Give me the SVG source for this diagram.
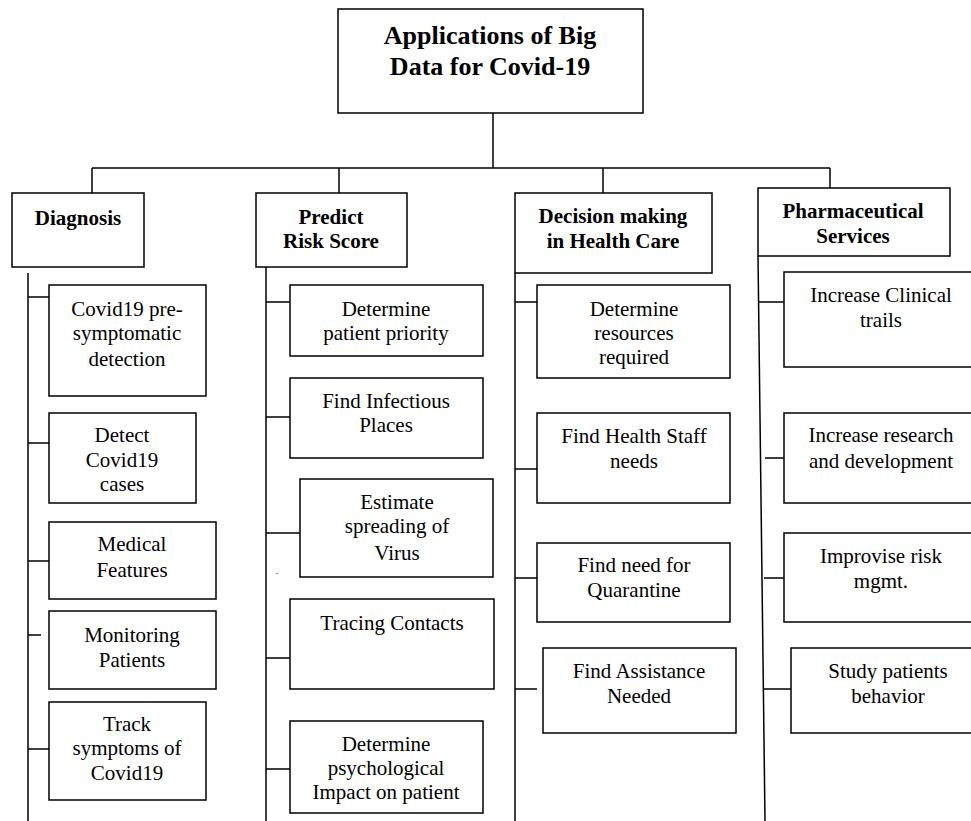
<svg xmlns="http://www.w3.org/2000/svg" width="971" height="821" viewBox="0 0 971 821">
<style>
.box{fill:#fff;stroke:#000;stroke-width:1.5}
.ln{fill:none;stroke:#000;stroke-width:1.5}
text{font-family:"Liberation Serif","Times New Roman",serif;fill:#000;text-anchor:middle}
.t{font-size:26px;font-weight:bold}
.h{font-size:21px;font-weight:bold}
.n{font-size:21px}
</style>
<rect width="971" height="821" fill="#fff"/>
<g id="connectors">
<path class="ln" d="M493,113 V168 M92,168 H830 M92,168 V193 M339,168 V193 M603,168 V193 M830,168 V188"/>
<path class="ln" d="M28,273 V821 M28,297 H49 M28,443 H49 M28,561 H49 M28,635 H41 M28,749 H49"/>
<path class="ln" d="M266,267 V821 M266,302 H290 M266,417 H290 M266,533 H300 M266,658 H290 M266,769 H290"/>
<path class="ln" d="M515,273 V821 M515,302 H537 M515,469 H537 M515,578 H537 M515,689 H537"/>
<path class="ln" d="M758,256 L765,821 M759,302 H784 M765,458 H784 M764,578 H784 M764,689 H791"/>
</g>
<g id="root"><rect class="box" x="338" y="9" width="305" height="104"/><text class="t" x="490" y="44">Applications of Big</text><text class="t" x="490" y="75">Data for Covid-19</text></g>
<g id="diagnosis"><rect class="box" x="12" y="193" width="132" height="74"/><text class="h" x="78" y="225">Diagnosis</text></g>
<g id="predict"><rect class="box" x="256" y="193" width="151" height="74"/><text class="h" x="331" y="224">Predict</text><text class="h" x="331" y="248">Risk Score</text></g>
<g id="decision"><rect class="box" x="515" y="193" width="197" height="80"/><text class="h" x="613" y="223">Decision making</text><text class="h" x="613" y="248">in Health Care</text></g>
<g id="pharma"><rect class="box" x="758" y="188" width="192" height="68"/><text class="h" x="853" y="218">Pharmaceutical</text><text class="h" x="853" y="243">Services</text></g>

<g id="d1"><rect class="box" x="49" y="285" width="157" height="111"/><text class="n" x="127" y="316">Covid19 pre-</text><text class="n" x="127" y="340">symptomatic</text><text class="n" x="127" y="366">detection</text></g>
<g id="d2"><rect class="box" x="49" y="413" width="147" height="90"/><text class="n" x="122" y="442">Detect</text><text class="n" x="122" y="467">Covid19</text><text class="n" x="122" y="491">cases</text></g>
<g id="d3"><rect class="box" x="49" y="522" width="167" height="77"/><text class="n" x="132" y="551">Medical</text><text class="n" x="132" y="577">Features</text></g>
<g id="d4"><rect class="box" x="49" y="611" width="167" height="78"/><text class="n" x="132" y="642">Monitoring</text><text class="n" x="132" y="667">Patients</text></g>
<g id="d5"><rect class="box" x="49" y="702" width="157" height="98"/><text class="n" x="127" y="731">Track</text><text class="n" x="127" y="755">symptoms of</text><text class="n" x="127" y="780">Covid19</text></g>

<g id="p1"><rect class="box" x="290" y="285" width="193" height="71"/><text class="n" x="386" y="316">Determine</text><text class="n" x="386" y="340">patient priority</text></g>
<g id="p2"><rect class="box" x="290" y="378" width="193" height="80"/><text class="n" x="386" y="408">Find Infectious</text><text class="n" x="386" y="432">Places</text></g>
<g id="p3"><rect class="box" x="300" y="479" width="193" height="98"/><text class="n" x="397" y="509">Estimate</text><text class="n" x="397" y="533">spreading of</text><text class="n" x="397" y="560">Virus</text></g>
<text x="277" y="574" style="font-size:10px">.</text>
<g id="p4"><rect class="box" x="290" y="599" width="204" height="90"/><text class="n" x="392" y="630">Tracing Contacts</text></g>
<g id="p5"><rect class="box" x="290" y="721" width="193" height="92"/><text class="n" x="386" y="751">Determine</text><text class="n" x="386" y="775">psychological</text><text class="n" x="386" y="799">Impact on patient</text></g>

<g id="c1"><rect class="box" x="537" y="285" width="193" height="93"/><text class="n" x="634" y="316">Determine</text><text class="n" x="634" y="340">resources</text><text class="n" x="634" y="364">required</text></g>
<g id="c2"><rect class="box" x="537" y="413" width="193" height="90"/><text class="n" x="634" y="443">Find Health Staff</text><text class="n" x="634" y="468">needs</text></g>
<g id="c3"><rect class="box" x="537" y="543" width="193" height="79"/><text class="n" x="634" y="572">Find need for</text><text class="n" x="634" y="597">Quarantine</text></g>
<g id="c4"><rect class="box" x="543" y="648" width="193" height="85"/><text class="n" x="639" y="678">Find Assistance</text><text class="n" x="639" y="703">Needed</text></g>

<g id="s1"><rect class="box" x="784" y="272" width="200" height="95"/><text class="n" x="881" y="302">Increase Clinical</text><text class="n" x="881" y="327">trails</text></g>
<g id="s2"><rect class="box" x="784" y="413" width="200" height="90"/><text class="n" x="881" y="442">Increase research</text><text class="n" x="881" y="468">and development</text></g>
<g id="s3"><rect class="box" x="784" y="533" width="200" height="89"/><text class="n" x="881" y="563">Improvise risk</text><text class="n" x="881" y="588">mgmt.</text></g>
<g id="s4"><rect class="box" x="791" y="648" width="200" height="85"/><text class="n" x="888" y="678">Study patients</text><text class="n" x="888" y="703">behavior</text></g>
</svg>
